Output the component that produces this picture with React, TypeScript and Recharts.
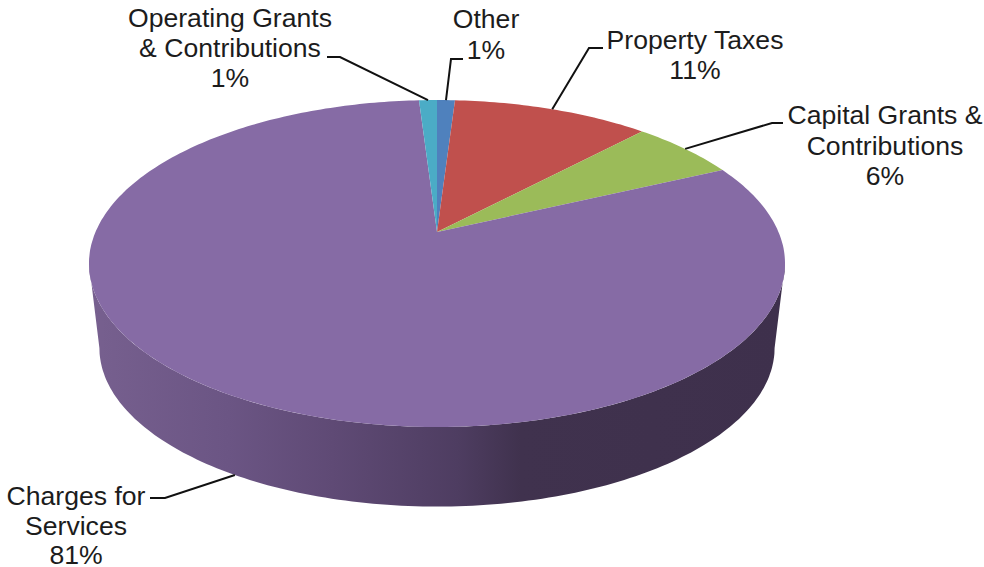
import { PieChart, Pie } from 'recharts'

const categories = ['Other', 'Property Taxes', 'Capital Grants & Contributions', 'Charges for Services', 'Operating Grants & Contributions']
const shares = [1, 11, 6, 81, 1]
const sliceColors = ['#4f81bd', '#c0504d', '#9bbb59', '#866ba5', '#4bacc6']
const labelRows = [['Other'], ['Property Taxes'], ['Capital Grants &', 'Contributions'], ['Charges for', 'Services'], ['Operating Grants', '& Contributions']]

// where each label sits: text centre, first baseline, line pitch, leader elbow and end
const labelBoxes = [
  { x: 486, y: 28, pitch: 31, elbow: [451, 59], end: [463, 59], depth: false },
  { x: 695, y: 49, pitch: 30, elbow: [589, 48], end: [603, 48], depth: false },
  { x: 885, y: 124, pitch: 30.5, elbow: [772, 123], end: [783, 123], depth: false },
  { x: 76, y: 505, pitch: 29.5, elbow: [165, 498], end: [150, 498], depth: true },
  { x: 230, y: 27, pitch: 30, elbow: [340, 57], end: [327, 57], depth: false },
]

const data = categories.map((name, i) => ({ name, value: shares[i], fill: sliceColors[i] }))

const APEX_X = 437
const APEX_Y = 232
const SPREAD_X = 341.5
const SPREAD_Y = 157.4
const TILT = 0.1927
const FACE_CY = 263.5
const BASE_CY = 348
const BASE_SCALE = 0.97
// the rim is widest here, so the side wall has to stop at these two angles
const WALL_START = (Math.acos(-TILT) * 180) / Math.PI
const WALL_END = 360 - WALL_START

// flat pie angle (degrees clockwise from 12 o'clock) to a rim point on the tilted face
const rimPoint = (deg: number) => {
  const r = (deg * Math.PI) / 180
  const w = 1 + TILT * Math.cos(r)
  return [APEX_X + (SPREAD_X * Math.sin(r)) / w, APEX_Y - (SPREAD_Y * Math.cos(r)) / w]
}

const basePoint = (deg: number) => {
  const [x, y] = rimPoint(deg)
  return [APEX_X + (x - APEX_X) * BASE_SCALE, BASE_CY + (y - FACE_CY) * BASE_SCALE]
}

const sweep = (from: number, to: number, fn: (d: number) => number[]) => {
  const pts: number[][] = []
  const steps = Math.max(2, Math.ceil(Math.abs(to - from)))
  for (let i = 0; i <= steps; i++) pts.push(fn(from + ((to - from) * i) / steps))
  return pts
}

const toPath = (pts: number[][]) => 'M' + pts.map(p => `${p[0].toFixed(1)},${p[1].toFixed(1)}`).join('L') + 'Z'

function TiltedSlice(props: any) {
  const from = 90 - props.startAngle
  const to = 90 - props.endAngle
  const wallFrom = Math.max(from, WALL_START)
  const wallTo = Math.min(to, WALL_END)
  const face = [[APEX_X, APEX_Y], ...sweep(from, to, rimPoint)]
  return (
    <g>
      {wallTo > wallFrom && (
        <path
          d={toPath([...sweep(wallFrom, wallTo, rimPoint), ...sweep(wallTo, wallFrom, basePoint)])}
          fill="url(#wallShade)"
        />
      )}
      <path d={toPath(face)} fill={props.fill} />
    </g>
  )
}

function SliceLabel(props: any) {
  const i = props.index
  const box = labelBoxes[i]
  const mid = 90 - props.midAngle
  const start = box.depth ? basePoint(mid) : rimPoint(mid)
  const rows = [...labelRows[i], `${shares[i]}%`]
  return (
    <g>
      <polyline
        points={`${start[0]},${start[1]} ${box.elbow[0]},${box.elbow[1]} ${box.end[0]},${box.end[1]}`}
        fill="none"
        stroke="#111"
        strokeWidth={2}
      />
      <text textAnchor="middle" fontFamily="'Liberation Sans', Arial, sans-serif" fontSize={26.6} fill="#1c1c1c">
        {rows.map((row, r) => (
          <tspan key={r} x={box.x} y={box.y + r * box.pitch}>
            {row}
          </tspan>
        ))}
      </text>
    </g>
  )
}

export default function App() {
  return (
    <div style={{ position: 'absolute', left: 0, top: 0, width: 984, height: 567 }}>
      <PieChart width={984} height={567} margin={{ top: 0, right: 0, bottom: 0, left: 0 }}>
        <defs>
          <linearGradient id="wallShade" gradientUnits="userSpaceOnUse" x1={89} y1={0} x2={785} y2={0}>
            <stop offset="0" stopColor="#77608f" />
            <stop offset="0.2" stopColor="#6b5584" />
            <stop offset="0.35" stopColor="#5f4a75" />
            <stop offset="0.53" stopColor="#4e3d61" />
            <stop offset="0.62" stopColor="#40324e" />
            <stop offset="1" stopColor="#3e304c" />
          </linearGradient>
        </defs>
        <Pie
          data={data}
          dataKey="value"
          nameKey="name"
          cx={APEX_X}
          cy={APEX_Y}
          outerRadius={160}
          startAngle={90}
          endAngle={-270}
          stroke="none"
          shape={TiltedSlice}
          label={SliceLabel}
          labelLine={false}
          isAnimationActive={false}
        />
      </PieChart>
    </div>
  )
}
